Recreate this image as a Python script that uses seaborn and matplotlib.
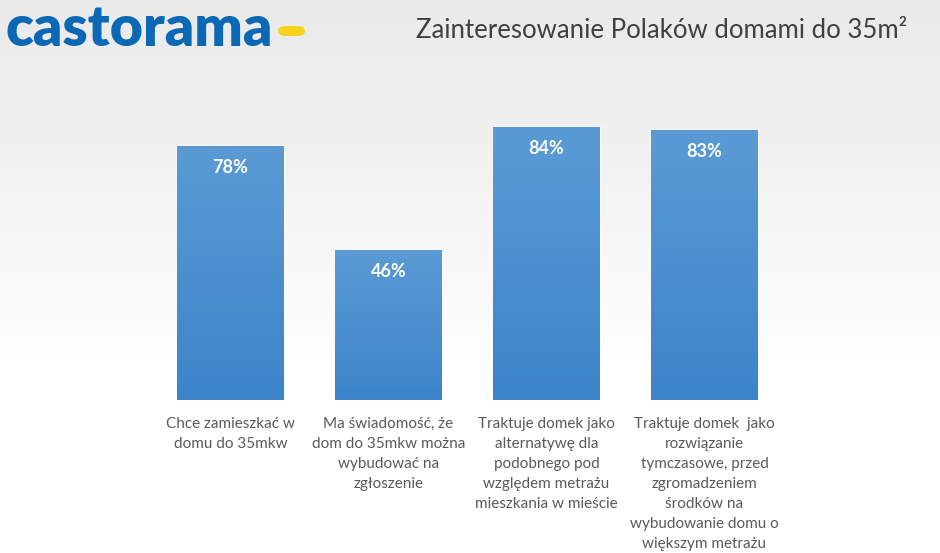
import numpy as np
import pandas as pd
import matplotlib
matplotlib.use('Agg')
import matplotlib.pyplot as plt
from matplotlib.patches import FancyBboxPatch
import seaborn as sns

# dane
kategorie = [
    "Chce zamieszkać w\ndomu do 35mkw",
    "Ma świadomość, że\ndom do 35mkw można\nwybudować na\nzgłoszenie",
    "Traktuje domek jako\nalternatywę dla\npodobnego pod\nwzględem metrażu\nmieszkania w mieście",
    "Traktuje domek  jako\nrozwiązanie\ntymczasowe, przed\nzgromadzeniem\nśrodków na\nwybudowanie domu o\nwiększym metrażu",
]
wartosci = [78, 46, 84, 83]
etykiety = ["78%", "46%", "84%", "83%"]
tytul = "Zainteresowanie Polaków domami do 35m²"

df = pd.DataFrame({'kat': kategorie, 'val': wartosci})

sns.set_theme(style='white')
plt.rcParams['font.family'] = ['Lato', 'DejaVu Sans']

fig = plt.figure(figsize=(9.4, 5.53), dpi=100)

# tło z gradientem
bg = fig.add_axes([0, 0, 1, 1], zorder=0)
grad = np.linspace(0, 1, 256).reshape(-1, 1)
bg_cmap = matplotlib.colors.LinearSegmentedColormap.from_list('bg', ['#eaeaea', '#f3f3f3', '#ffffff', '#ffffff'])
bg.imshow(grad, aspect='auto', cmap=bg_cmap, extent=[0, 1, 1, 0])
bg.axis('off')

ax = fig.add_axes([0.1612, 0.2767, 0.6723, 0.5877], zorder=1)
ax.patch.set_alpha(0)
sns.barplot(data=df, x='kat', y='val', color='#4a8fd2', width=0.677, ax=ax, saturation=1)

# gradient na słupkach
bar_cmap = matplotlib.colors.LinearSegmentedColormap.from_list('bar', ['#5b9bd5', '#3c84c9'])
for p in ax.patches:
    x0, y0 = p.get_x(), p.get_y()
    w, h = p.get_width(), p.get_height()
    im = ax.imshow(grad, aspect='auto', cmap=bar_cmap, extent=[x0, x0 + w, y0, y0 + h],
                   origin='upper', zorder=2)
    im.set_clip_path(p)
ax.set_xlim(-0.5, 3.5)
ax.set_ylim(0, 100)

for i, (v, t) in enumerate(zip(wartosci, etykiety)):
    ax.text(i, v - 6.5, t, ha='center', va='center', color='white',
            fontsize=13, fontweight='bold', zorder=3)

ax.set_xlabel('')
ax.set_ylabel('')
ax.set_yticks([])
ax.set_xticks(range(len(kategorie)))
ax.set_xticklabels(kategorie, fontsize=11, color='#595959', linespacing=1.55)
ax.tick_params(axis='x', length=0, pad=12)
for s in ax.spines.values():
    s.set_visible(False)

# logo i tytuł
fig.text(0.006, 0.948, 'castorama', fontsize=41, fontweight='heavy', color='#0b68b4',
         ha='left', va='center')
fig.patches.append(FancyBboxPatch((278 / 940, 1 - 36 / 553), 27 / 940, 10 / 553,
                                  boxstyle='round,pad=0,rounding_size=0.009',
                                  transform=fig.transFigure, facecolor='#f8d21a',
                                  edgecolor='none', figure=fig))
fig.text(0.443, 0.945, tytul, fontsize=18.5, color='#404040', ha='left', va='center')

fig.savefig('out.png', dpi=100)
